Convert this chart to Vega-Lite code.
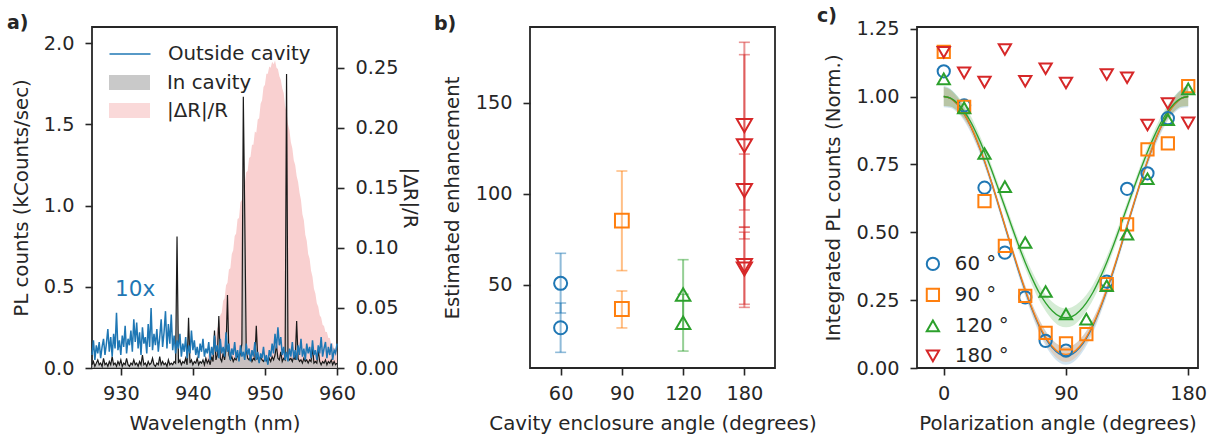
{
"$schema":"https://vega.github.io/schema/vega-lite/v6.json",
"background":"white",
"padding":{"left":6,"top":5,"right":6,"bottom":4},
"bounds":"flush",
"spacing":193,
"resolve":{"scale":{"color":"independent","shape":"independent","size":"independent","fill":"independent","stroke":"independent"},"legend":{"color":"independent","shape":"independent","size":"independent","fill":"independent","stroke":"independent"}},
"hconcat":[
{
"width":245,"height":341,
"title":{"text":"a)","dx":-85,"dy":10},
"data":{"values":[
{"w":926.0,"o":0.08,"i":0.02,"r":0},{"w":926.2,"o":0.17,"i":0.04,"r":0},{"w":926.4,"o":0.05,"i":0.01,"r":0},{"w":926.6,"o":0.14,"i":0.03,"r":0},{"w":926.8,"o":0.09,"i":0.05,"r":0},
{"w":927.0,"o":0.16,"i":0.02,"r":0},{"w":927.2,"o":0.06,"i":0.03,"r":0},{"w":927.4,"o":0.13,"i":0.01,"r":0},{"w":927.6,"o":0.18,"i":0.06,"r":0},{"w":927.8,"o":0.08,"i":0.02,"r":0},
{"w":928.0,"o":0.15,"i":0.03,"r":0},{"w":928.2,"o":0.24,"i":0.01,"r":0},{"w":928.4,"o":0.10,"i":0.04,"r":0},{"w":928.6,"o":0.19,"i":0.02,"r":0},{"w":928.8,"o":0.07,"i":0.07,"r":0},
{"w":929.0,"o":0.21,"i":0.02,"r":0},{"w":929.2,"o":0.12,"i":0.03,"r":0},{"w":929.4,"o":0.34,"i":0.01,"r":0},{"w":929.6,"o":0.11,"i":0.04,"r":0},{"w":929.8,"o":0.17,"i":0.02,"r":0},
{"w":930.0,"o":0.08,"i":0.05,"r":0},{"w":930.2,"o":0.20,"i":0.01,"r":0},{"w":930.4,"o":0.13,"i":0.03,"r":0},{"w":930.6,"o":0.26,"i":0.02,"r":0},{"w":930.8,"o":0.09,"i":0.06,"r":0},
{"w":931.0,"o":0.18,"i":0.02,"r":0},{"w":931.2,"o":0.14,"i":0.01,"r":0},{"w":931.4,"o":0.23,"i":0.03,"r":0},{"w":931.6,"o":0.10,"i":0.02,"r":0},{"w":931.8,"o":0.30,"i":0.05,"r":0},
{"w":932.0,"o":0.16,"i":0.02,"r":0},{"w":932.2,"o":0.28,"i":0.03,"r":0},{"w":932.4,"o":0.12,"i":0.01,"r":0},{"w":932.6,"o":0.22,"i":0.04,"r":0},{"w":932.8,"o":0.08,"i":0.02,"r":0},
{"w":933.0,"o":0.25,"i":0.08,"r":0},{"w":933.2,"o":0.15,"i":0.02,"r":0},{"w":933.4,"o":0.19,"i":0.03,"r":0},{"w":933.6,"o":0.09,"i":0.01,"r":0},{"w":933.8,"o":0.27,"i":0.04,"r":0},
{"w":934.0,"o":0.13,"i":0.02,"r":0},{"w":934.2,"o":0.37,"i":0.03,"r":0},{"w":934.4,"o":0.11,"i":0.06,"r":0},{"w":934.6,"o":0.21,"i":0.02,"r":0},{"w":934.8,"o":0.14,"i":0.01,"r":0},
{"w":935.0,"o":0.24,"i":0.03,"r":0},{"w":935.2,"o":0.10,"i":0.02,"r":0},{"w":935.4,"o":0.19,"i":0.07,"r":0},{"w":935.6,"o":0.30,"i":0.02,"r":0},{"w":935.8,"o":0.13,"i":0.04,"r":0},
{"w":936.0,"o":0.22,"i":0.02,"r":0},{"w":936.2,"o":0.35,"i":0.03,"r":0},{"w":936.4,"o":0.12,"i":0.01,"r":0},{"w":936.6,"o":0.27,"i":0.05,"r":0},{"w":936.8,"o":0.15,"i":0.02,"r":0},
{"w":937.0,"o":0.33,"i":0.03,"r":0},{"w":937.2,"o":0.11,"i":0.02,"r":0},{"w":937.4,"o":0.20,"i":0.04,"r":0},{"w":937.6,"o":0.09,"i":0.03,"r":0},{"w":937.8,"o":0.17,"i":0.81,"r":0},
{"w":938.0,"o":0.12,"i":0.03,"r":0},{"w":938.2,"o":0.21,"i":0.05,"r":0},{"w":938.4,"o":0.07,"i":0.02,"r":0},{"w":938.6,"o":0.15,"i":0.04,"r":0},{"w":938.8,"o":0.10,"i":0.03,"r":0},
{"w":939.0,"o":0.19,"i":0.06,"r":0},{"w":939.2,"o":0.06,"i":0.02,"r":0},{"w":939.4,"o":0.14,"i":0.31,"r":0},{"w":939.6,"o":0.09,"i":0.03,"r":0},{"w":939.8,"o":0.23,"i":0.05,"r":0},
{"w":940.0,"o":0.11,"i":0.02,"r":0},{"w":940.2,"o":0.17,"i":0.04,"r":0},{"w":940.4,"o":0.08,"i":0.03,"r":0},{"w":940.6,"o":0.13,"i":0.06,"r":0},{"w":940.8,"o":0.06,"i":0.02,"r":0},
{"w":941.0,"o":0.15,"i":0.04,"r":0},{"w":941.2,"o":0.10,"i":0.03,"r":0.002},{"w":941.4,"o":0.18,"i":0.05,"r":0.004},{"w":941.6,"o":0.07,"i":0.02,"r":0.003},{"w":941.8,"o":0.12,"i":0.06,"r":0.007},
{"w":942.0,"o":0.09,"i":0.03,"r":0.008},{"w":942.2,"o":0.16,"i":0.05,"r":0.012},{"w":942.4,"o":0.05,"i":0.02,"r":0.010},{"w":942.6,"o":0.13,"i":0.07,"r":0.017},{"w":942.8,"o":0.08,"i":0.04,"r":0.018},
{"w":943.0,"o":0.20,"i":0.23,"r":0.025},{"w":943.2,"o":0.10,"i":0.05,"r":0.026},{"w":943.4,"o":0.14,"i":0.08,"r":0.034},{"w":943.6,"o":0.06,"i":0.32,"r":0.033},{"w":943.8,"o":0.18,"i":0.06,"r":0.044},
{"w":944.0,"o":0.09,"i":0.04,"r":0.046},{"w":944.2,"o":0.13,"i":0.09,"r":0.056},{"w":944.4,"o":0.07,"i":0.05,"r":0.058},{"w":944.6,"o":0.22,"i":0.12,"r":0.069},{"w":944.8,"o":0.10,"i":0.45,"r":0.071},
{"w":945.0,"o":0.15,"i":0.08,"r":0.082},{"w":945.2,"o":0.05,"i":0.05,"r":0.083},{"w":945.4,"o":0.12,"i":0.07,"r":0.095},{"w":945.6,"o":0.08,"i":0.04,"r":0.098},{"w":945.8,"o":0.16,"i":0.06,"r":0.110},
{"w":946.0,"o":0.06,"i":0.05,"r":0.112},{"w":946.2,"o":0.11,"i":0.08,"r":0.124},{"w":946.4,"o":0.04,"i":0.06,"r":0.125},{"w":946.6,"o":0.14,"i":0.09,"r":0.138},{"w":946.8,"o":0.07,"i":0.15,"r":0.140},
{"w":947.0,"o":0.10,"i":1.67,"r":0.152},{"w":947.2,"o":0.05,"i":0.93,"r":0.153},{"w":947.4,"o":0.15,"i":0.12,"r":0.163},{"w":947.6,"o":0.08,"i":0.06,"r":0.164},{"w":947.8,"o":0.12,"i":0.05,"r":0.175},
{"w":948.0,"o":0.04,"i":0.07,"r":0.176},{"w":948.2,"o":0.11,"i":0.04,"r":0.186},{"w":948.4,"o":0.07,"i":0.06,"r":0.186},{"w":948.6,"o":0.16,"i":0.05,"r":0.197},{"w":948.8,"o":0.05,"i":0.26,"r":0.196},
{"w":949.0,"o":0.10,"i":0.06,"r":0.207},{"w":949.2,"o":0.03,"i":0.04,"r":0.208},{"w":949.4,"o":0.09,"i":0.07,"r":0.220},{"w":949.6,"o":0.06,"i":0.05,"r":0.223},{"w":949.8,"o":0.13,"i":0.04,"r":0.234},
{"w":950.0,"o":0.04,"i":0.06,"r":0.236},{"w":950.2,"o":0.08,"i":0.05,"r":0.245},{"w":950.4,"o":0.02,"i":0.03,"r":0.245},{"w":950.6,"o":0.11,"i":0.06,"r":0.251},{"w":950.8,"o":0.07,"i":0.04,"r":0.250},
{"w":951.0,"o":0.15,"i":0.07,"r":0.255},{"w":951.2,"o":0.09,"i":0.05,"r":0.253},{"w":951.4,"o":0.21,"i":0.08,"r":0.256},{"w":951.6,"o":0.12,"i":0.14,"r":0.250},{"w":951.8,"o":0.25,"i":0.06,"r":0.249},
{"w":952.0,"o":0.14,"i":0.05,"r":0.243},{"w":952.2,"o":0.19,"i":0.10,"r":0.240},{"w":952.4,"o":0.08,"i":0.04,"r":0.233},{"w":952.6,"o":0.13,"i":0.06,"r":0.229},{"w":952.8,"o":0.05,"i":0.05,"r":0.218},
{"w":953.0,"o":0.10,"i":1.81,"r":0.213},{"w":953.2,"o":0.04,"i":0.07,"r":0.203},{"w":953.4,"o":0.12,"i":0.05,"r":0.198},{"w":953.6,"o":0.07,"i":0.06,"r":0.188},{"w":953.8,"o":0.16,"i":0.04,"r":0.183},
{"w":954.0,"o":0.06,"i":0.07,"r":0.173},{"w":954.2,"o":0.11,"i":0.05,"r":0.169},{"w":954.4,"o":0.05,"i":0.29,"r":0.160},{"w":954.6,"o":0.14,"i":0.06,"r":0.155},{"w":954.8,"o":0.08,"i":0.04,"r":0.146},
{"w":955.0,"o":0.18,"i":0.05,"r":0.140},{"w":955.2,"o":0.07,"i":0.03,"r":0.128},{"w":955.4,"o":0.12,"i":0.06,"r":0.123},{"w":955.6,"o":0.05,"i":0.04,"r":0.111},{"w":955.8,"o":0.15,"i":0.05,"r":0.106},
{"w":956.0,"o":0.09,"i":0.03,"r":0.095},{"w":956.2,"o":0.13,"i":0.05,"r":0.091},{"w":956.4,"o":0.06,"i":0.04,"r":0.081},{"w":956.6,"o":0.17,"i":0.13,"r":0.076},{"w":956.8,"o":0.08,"i":0.03,"r":0.066},
{"w":957.0,"o":0.11,"i":0.04,"r":0.062},{"w":957.2,"o":0.05,"i":0.03,"r":0.054},{"w":957.4,"o":0.14,"i":0.11,"r":0.051},{"w":957.6,"o":0.09,"i":0.04,"r":0.044},{"w":957.8,"o":0.19,"i":0.02,"r":0.042},
{"w":958.0,"o":0.07,"i":0.04,"r":0.036},{"w":958.2,"o":0.12,"i":0.03,"r":0.035},{"w":958.4,"o":0.16,"i":0.05,"r":0.030},{"w":958.6,"o":0.06,"i":0.02,"r":0.030},{"w":958.8,"o":0.13,"i":0.04,"r":0.025},
{"w":959.0,"o":0.08,"i":0.03,"r":0.025},{"w":959.2,"o":0.15,"i":0.05,"r":0.020},{"w":959.4,"o":0.05,"i":0.02,"r":0.021},{"w":959.6,"o":0.11,"i":0.04,"r":0.016},{"w":959.8,"o":0.09,"i":0.02,"r":0.017},
{"w":960.0,"o":0.15,"i":0.03,"r":0.013}
]},
"encoding":{"x":{"field":"w","type":"quantitative","scale":{"domain":[926,960],"nice":false,"zero":false},"axis":{"values":[930,940,950,960],"title":"Wavelength (nm)"}}},
"layer":[
{"mark":{"type":"area","interpolate":"linear"},
 "encoding":{
  "y":{"field":"r","type":"quantitative","scale":{"domain":[0,0.284],"nice":false},"axis":{"orient":"right","values":[0,0.05,0.1,0.15,0.2,0.25],"format":".2f","title":"|ΔR|/R","titlePadding":2}},
  "fill":{"datum":"|ΔR|/R","type":"nominal","scale":{"domain":["In cavity","|ΔR|/R"],"range":["#bcbcbc","#f9d0d0"]},
   "legend":{"orient":"none","legendX":27,"legendY":45,"title":null,"symbolType":"M-2,-0.73H2V0.73H-2Z","symbolSize":420,"symbolStrokeWidth":0,"rowPadding":7,"labelOffset":27}}}},
{"layer":[
 {"mark":{"type":"area","opacity":0.8},
  "encoding":{"y":{"field":"i","type":"quantitative","scale":{"domain":[0,2.1],"nice":false},"axis":{"orient":"left","values":[0,0.5,1,1.5,2],"format":".1f","title":"PL counts (kCounts/sec)","titlePadding":12}},
   "fill":{"datum":"In cavity","type":"nominal"}}},
 {"mark":{"type":"line","color":"#1a1a1a","strokeWidth":1.2},
  "encoding":{"y":{"field":"i","type":"quantitative","title":"PL counts (kCounts/sec)"}}},
 {"mark":{"type":"line","strokeWidth":1.5},
  "encoding":{"y":{"field":"o","type":"quantitative","title":"PL counts (kCounts/sec)"},
   "stroke":{"datum":"Outside cavity","type":"nominal","scale":{"range":["#1f77b4"]},
    "legend":{"orient":"none","legendX":27,"legendY":16,"title":null,"symbolType":"M-2,0H2","symbolSize":420,"symbolStrokeWidth":1.5,"labelOffset":27}}}},
 {"data":{"values":[{"w":929.2,"y":0.443,"t":"10x"}]},
  "mark":{"type":"text","align":"left","baseline":"alphabetic","fontSize":21.5,"color":"#1f77b4","font":"DejaVu Sans"},
  "encoding":{"y":{"field":"y","type":"quantitative","title":"PL counts (kCounts/sec)"},"text":{"field":"t"}}}
 ]}
],
"resolve":{"scale":{"y":"independent"}}
},
{
"bounds":"flush",
"spacing":142,
"resolve":{"scale":{"color":"independent","shape":"independent","size":"independent"},"legend":{"color":"independent","shape":"independent","size":"independent"}},
"hconcat":[
{
"width":245,"height":341,
"title":{"text":"b)","dx":-96,"dy":11},
"data":{"values":[
{"a":"60","v":50.9,"lo":34.6,"hi":67.4},
{"a":"60","v":26.5,"lo":13.0,"hi":40.1},
{"a":"90","v":85.3,"lo":57.9,"hi":112.6},
{"a":"90","v":36.8,"lo":26.4,"hi":46.7},
{"a":"120","v":44.8,"lo":25.7,"hi":63.9},
{"a":"120","v":29.3,"lo":13.7,"hi":44.9},
{"a":"180","v":137.5,"lo":91.2,"hi":183.3},
{"a":"180","v":126.5,"lo":75.3,"hi":176.5},
{"a":"180","v":101.8,"lo":81.7,"hi":121.9},
{"a":"180","v":60.6,"lo":39.4,"hi":81.8},
{"a":"180","v":58.8,"lo":37.7,"hi":79.0}
]},
"encoding":{
 "x":{"field":"a","type":"ordinal","sort":["60","90","120","180"],"scale":{"type":"point","padding":0.5},"axis":{"labelAngle":0,"title":"Cavity enclosure angle (degrees)"}},
 "color":{"field":"a","type":"nominal","scale":{"domain":["60","90","120","180"],"range":["#1f77b4","#ff7f0e","#2ca02c","#d62728"]},"legend":null}
},
"layer":[
 {"mark":{"type":"rule","strokeWidth":2,"opacity":0.5},
  "encoding":{"y":{"field":"lo","type":"quantitative","scale":{"domain":[4.4,191.7],"nice":false,"zero":false},"axis":{"values":[50,100,150],"titlePadding":13},"title":"Estimated enhancement"},"y2":{"field":"hi"}}},
 {"mark":{"type":"tick","size":11,"thickness":1.6,"opacity":0.5},
  "encoding":{"y":{"field":"lo","type":"quantitative","title":"Estimated enhancement"}}},
 {"mark":{"type":"tick","size":11,"thickness":1.6,"opacity":0.5},
  "encoding":{"y":{"field":"hi","type":"quantitative","title":"Estimated enhancement"}}},
 {"mark":{"type":"point","filled":false,"strokeWidth":2,"opacity":1},
  "encoding":{"y":{"field":"v","type":"quantitative","title":"Estimated enhancement"},
   "shape":{"field":"a","type":"nominal","scale":{"domain":["60","90","120","180"],"range":["circle","square","triangle-up","triangle-down"]},"legend":null},
   "size":{"field":"a","type":"nominal","scale":{"domain":["60","90","120","180"],"range":[170,230,270,270]},"legend":null}}}
]
},
{
"width":281,"height":341,
"title":{"text":"c)","dx":-100,"dy":10},
"layer":[
 {"data":{"values":[
{"p":0,"g":1.000,"gl":0.965,"gh":1.035,"o":1.000,"ol":0.965,"oh":1.035,"b":1.000,"bl":0.960,"bh":1.040},
{"p":5,"g":0.994,"gl":0.962,"gh":1.026,"o":0.993,"ol":0.963,"oh":1.023,"b":0.993,"bl":0.958,"bh":1.028},
{"p":10,"g":0.975,"gl":0.947,"gh":1.003,"o":0.971,"ol":0.946,"oh":0.996,"b":0.971,"bl":0.941,"bh":1.001},
{"p":15,"g":0.945,"gl":0.920,"gh":0.970,"o":0.936,"ol":0.916,"oh":0.956,"b":0.936,"bl":0.911,"bh":0.961},
{"p":20,"g":0.905,"gl":0.883,"gh":0.927,"o":0.889,"ol":0.872,"oh":0.906,"b":0.888,"bl":0.866,"bh":0.910},
{"p":25,"g":0.854,"gl":0.834,"gh":0.874,"o":0.830,"ol":0.815,"oh":0.845,"b":0.829,"bl":0.809,"bh":0.849},
{"p":30,"g":0.796,"gl":0.777,"gh":0.815,"o":0.763,"ol":0.750,"oh":0.776,"b":0.761,"bl":0.743,"bh":0.779},
{"p":35,"g":0.732,"gl":0.714,"gh":0.750,"o":0.687,"ol":0.675,"oh":0.699,"b":0.686,"bl":0.669,"bh":0.703},
{"p":40,"g":0.663,"gl":0.645,"gh":0.681,"o":0.607,"ol":0.595,"oh":0.619,"b":0.605,"bl":0.588,"bh":0.622},
{"p":45,"g":0.593,"gl":0.575,"gh":0.611,"o":0.525,"ol":0.513,"oh":0.537,"b":0.523,"bl":0.506,"bh":0.540},
{"p":50,"g":0.522,"gl":0.503,"gh":0.541,"o":0.443,"ol":0.431,"oh":0.455,"b":0.440,"bl":0.423,"bh":0.457},
{"p":55,"g":0.453,"gl":0.433,"gh":0.473,"o":0.363,"ol":0.350,"oh":0.376,"b":0.359,"bl":0.341,"bh":0.377},
{"p":60,"g":0.389,"gl":0.367,"gh":0.411,"o":0.288,"ol":0.273,"oh":0.303,"b":0.284,"bl":0.264,"bh":0.304},
{"p":65,"g":0.331,"gl":0.306,"gh":0.356,"o":0.220,"ol":0.203,"oh":0.237,"b":0.216,"bl":0.194,"bh":0.238},
{"p":70,"g":0.280,"gl":0.252,"gh":0.308,"o":0.161,"ol":0.141,"oh":0.181,"b":0.157,"bl":0.132,"bh":0.182},
{"p":75,"g":0.240,"gl":0.210,"gh":0.270,"o":0.114,"ol":0.092,"oh":0.136,"b":0.109,"bl":0.082,"bh":0.136},
{"p":80,"g":0.210,"gl":0.177,"gh":0.243,"o":0.079,"ol":0.054,"oh":0.104,"b":0.074,"bl":0.044,"bh":0.104},
{"p":85,"g":0.191,"gl":0.156,"gh":0.226,"o":0.057,"ol":0.030,"oh":0.084,"b":0.052,"bl":0.020,"bh":0.084},
{"p":90,"g":0.185,"gl":0.150,"gh":0.220,"o":0.050,"ol":0.022,"oh":0.078,"b":0.045,"bl":0.012,"bh":0.078},
{"p":95,"g":0.191,"gl":0.156,"gh":0.226,"o":0.057,"ol":0.030,"oh":0.084,"b":0.052,"bl":0.020,"bh":0.084},
{"p":100,"g":0.210,"gl":0.177,"gh":0.243,"o":0.079,"ol":0.054,"oh":0.104,"b":0.074,"bl":0.044,"bh":0.104},
{"p":105,"g":0.240,"gl":0.210,"gh":0.270,"o":0.114,"ol":0.092,"oh":0.136,"b":0.109,"bl":0.082,"bh":0.136},
{"p":110,"g":0.280,"gl":0.252,"gh":0.308,"o":0.161,"ol":0.141,"oh":0.181,"b":0.157,"bl":0.132,"bh":0.182},
{"p":115,"g":0.331,"gl":0.306,"gh":0.356,"o":0.220,"ol":0.203,"oh":0.237,"b":0.216,"bl":0.194,"bh":0.238},
{"p":120,"g":0.389,"gl":0.367,"gh":0.411,"o":0.288,"ol":0.273,"oh":0.303,"b":0.284,"bl":0.264,"bh":0.304},
{"p":125,"g":0.453,"gl":0.433,"gh":0.473,"o":0.363,"ol":0.350,"oh":0.376,"b":0.359,"bl":0.341,"bh":0.377},
{"p":130,"g":0.522,"gl":0.503,"gh":0.541,"o":0.443,"ol":0.431,"oh":0.455,"b":0.440,"bl":0.423,"bh":0.457},
{"p":135,"g":0.593,"gl":0.575,"gh":0.611,"o":0.525,"ol":0.513,"oh":0.537,"b":0.523,"bl":0.506,"bh":0.540},
{"p":140,"g":0.663,"gl":0.645,"gh":0.681,"o":0.607,"ol":0.595,"oh":0.619,"b":0.605,"bl":0.588,"bh":0.622},
{"p":145,"g":0.732,"gl":0.714,"gh":0.750,"o":0.687,"ol":0.675,"oh":0.699,"b":0.686,"bl":0.669,"bh":0.703},
{"p":150,"g":0.796,"gl":0.777,"gh":0.815,"o":0.763,"ol":0.750,"oh":0.776,"b":0.761,"bl":0.743,"bh":0.779},
{"p":155,"g":0.854,"gl":0.834,"gh":0.874,"o":0.830,"ol":0.815,"oh":0.845,"b":0.829,"bl":0.809,"bh":0.849},
{"p":160,"g":0.905,"gl":0.883,"gh":0.927,"o":0.889,"ol":0.872,"oh":0.906,"b":0.888,"bl":0.866,"bh":0.910},
{"p":165,"g":0.945,"gl":0.920,"gh":0.970,"o":0.936,"ol":0.916,"oh":0.956,"b":0.936,"bl":0.911,"bh":0.961},
{"p":170,"g":0.975,"gl":0.947,"gh":1.003,"o":0.971,"ol":0.946,"oh":0.996,"b":0.971,"bl":0.941,"bh":1.001},
{"p":175,"g":0.994,"gl":0.962,"gh":1.026,"o":0.993,"ol":0.963,"oh":1.023,"b":0.993,"bl":0.958,"bh":1.028},
{"p":180,"g":1.000,"gl":0.965,"gh":1.035,"o":1.000,"ol":0.965,"oh":1.035,"b":1.000,"bl":0.960,"bh":1.040}
 ]},
 "encoding":{"x":{"field":"p","type":"quantitative","scale":{"domain":[-19.7,187.2],"nice":false,"zero":false},"axis":{"values":[0,90,180]},"title":"Polarization angle (degrees)"}},
 "layer":[
  {"mark":{"type":"area","color":"#1f77b4","opacity":0.2,"interpolate":"monotone"},"encoding":{"y":{"field":"bl","type":"quantitative","scale":{"domain":[0,1.256],"nice":false},"axis":{"values":[0,0.25,0.5,0.75,1,1.25],"format":".2f","titlePadding":13},"title":"Integrated PL counts (Norm.)"},"y2":{"field":"bh"}}},
  {"mark":{"type":"area","color":"#ff7f0e","opacity":0.2,"interpolate":"monotone"},"encoding":{"y":{"field":"ol","type":"quantitative","title":"Integrated PL counts (Norm.)"},"y2":{"field":"oh"}}},
  {"mark":{"type":"area","color":"#2ca02c","opacity":0.2,"interpolate":"monotone"},"encoding":{"y":{"field":"gl","type":"quantitative","title":"Integrated PL counts (Norm.)"},"y2":{"field":"gh"}}},
  {"mark":{"type":"line","color":"#1f77b4","strokeWidth":1.3,"interpolate":"monotone"},"encoding":{"y":{"field":"b","type":"quantitative","title":"Integrated PL counts (Norm.)"}}},
  {"mark":{"type":"line","color":"#ff7f0e","strokeWidth":1.3,"interpolate":"monotone"},"encoding":{"y":{"field":"o","type":"quantitative","title":"Integrated PL counts (Norm.)"}}},
  {"mark":{"type":"line","color":"#2ca02c","strokeWidth":1.3,"interpolate":"monotone"},"encoding":{"y":{"field":"g","type":"quantitative","title":"Integrated PL counts (Norm.)"}}}
 ]},
 {"data":{"values":[
{"p":0,"s":"60 °","v":1.093},{"p":15,"s":"60 °","v":0.967},{"p":30,"s":"60 °","v":0.664},{"p":45,"s":"60 °","v":0.425},{"p":60,"s":"60 °","v":0.26},{"p":75,"s":"60 °","v":0.10},{"p":90,"s":"60 °","v":0.064},{"p":120,"s":"60 °","v":0.318},{"p":135,"s":"60 °","v":0.66},{"p":150,"s":"60 °","v":0.717},{"p":165,"s":"60 °","v":0.92},
{"p":0,"s":"90 °","v":1.164},{"p":15,"s":"90 °","v":0.962},{"p":30,"s":"90 °","v":0.615},{"p":45,"s":"90 °","v":0.45},{"p":60,"s":"90 °","v":0.266},{"p":75,"s":"90 °","v":0.129},{"p":90,"s":"90 °","v":0.091},{"p":105,"s":"90 °","v":0.125},{"p":120,"s":"90 °","v":0.309},{"p":135,"s":"90 °","v":0.529},{"p":150,"s":"90 °","v":0.805},{"p":165,"s":"90 °","v":0.827},{"p":180,"s":"90 °","v":1.038},
{"p":0,"s":"120 °","v":1.065},{"p":15,"s":"120 °","v":0.958},{"p":30,"s":"120 °","v":0.79},{"p":45,"s":"120 °","v":0.668},{"p":60,"s":"120 °","v":0.462},{"p":75,"s":"120 °","v":0.282},{"p":90,"s":"120 °","v":0.199},{"p":105,"s":"120 °","v":0.18},{"p":120,"s":"120 °","v":0.303},{"p":135,"s":"120 °","v":0.493},{"p":150,"s":"120 °","v":0.697},{"p":165,"s":"120 °","v":0.915},{"p":180,"s":"120 °","v":1.028},
{"p":0,"s":"180 °","v":1.163},{"p":15,"s":"180 °","v":1.087},{"p":30,"s":"180 °","v":1.053},{"p":45,"s":"180 °","v":1.173},{"p":60,"s":"180 °","v":1.056},{"p":75,"s":"180 °","v":1.102},{"p":90,"s":"180 °","v":1.05},{"p":120,"s":"180 °","v":1.081},{"p":135,"s":"180 °","v":1.069},{"p":150,"s":"180 °","v":0.895},{"p":165,"s":"180 °","v":0.974},{"p":180,"s":"180 °","v":0.903}
 ]},
 "mark":{"type":"point","filled":false,"strokeWidth":2,"opacity":1,"size":150},
 "encoding":{
  "x":{"field":"p","type":"quantitative","title":"Polarization angle (degrees)"},
  "y":{"field":"v","type":"quantitative","title":"Integrated PL counts (Norm.)"},
  "color":{"field":"s","type":"nominal","scale":{"domain":["60 °","90 °","120 °","180 °"],"range":["#1f77b4","#ff7f0e","#2ca02c","#d62728"]},
   "legend":{"orient":"none","legendX":6,"legendY":227,"title":null,"rowPadding":9,"labelOffset":12,"symbolStrokeWidth":2,"symbolSize":150}},
  "shape":{"field":"s","type":"nominal","scale":{"domain":["60 °","90 °","120 °","180 °"],"range":["circle","square","triangle-up","triangle-down"]},
   "legend":{"orient":"none","legendX":6,"legendY":227,"title":null,"rowPadding":9,"labelOffset":12,"symbolStrokeWidth":2,"symbolSize":150}}
 }}
]
}
]
}
],
"config":{
 "font":"DejaVu Sans",
 "view":{"stroke":"#262626","strokeWidth":1.8},
 "axis":{"grid":false,"domain":false,"tickColor":"#262626","tickSize":7,"tickWidth":1.6,"labelFont":"DejaVu Sans","labelFontSize":19.3,"labelColor":"#262626","titleFont":"DejaVu Sans","titleFontSize":19.8,"titleColor":"#262626","titleFontWeight":"normal","labelFlush":false,"labelOverlap":false},
 "axisX":{"labelPadding":9,"titlePadding":10,"labelAngle":0},
 "axisY":{"labelPadding":11,"titlePadding":9},
 "legend":{"labelFont":"DejaVu Sans","labelFontSize":19.8,"labelColor":"#262626","padding":0},
 "title":{"font":"DejaVu Sans","fontSize":19,"fontWeight":"bold","color":"#262626","anchor":"start","frame":"group","offset":0,"baseline":"alphabetic"}
}
}
